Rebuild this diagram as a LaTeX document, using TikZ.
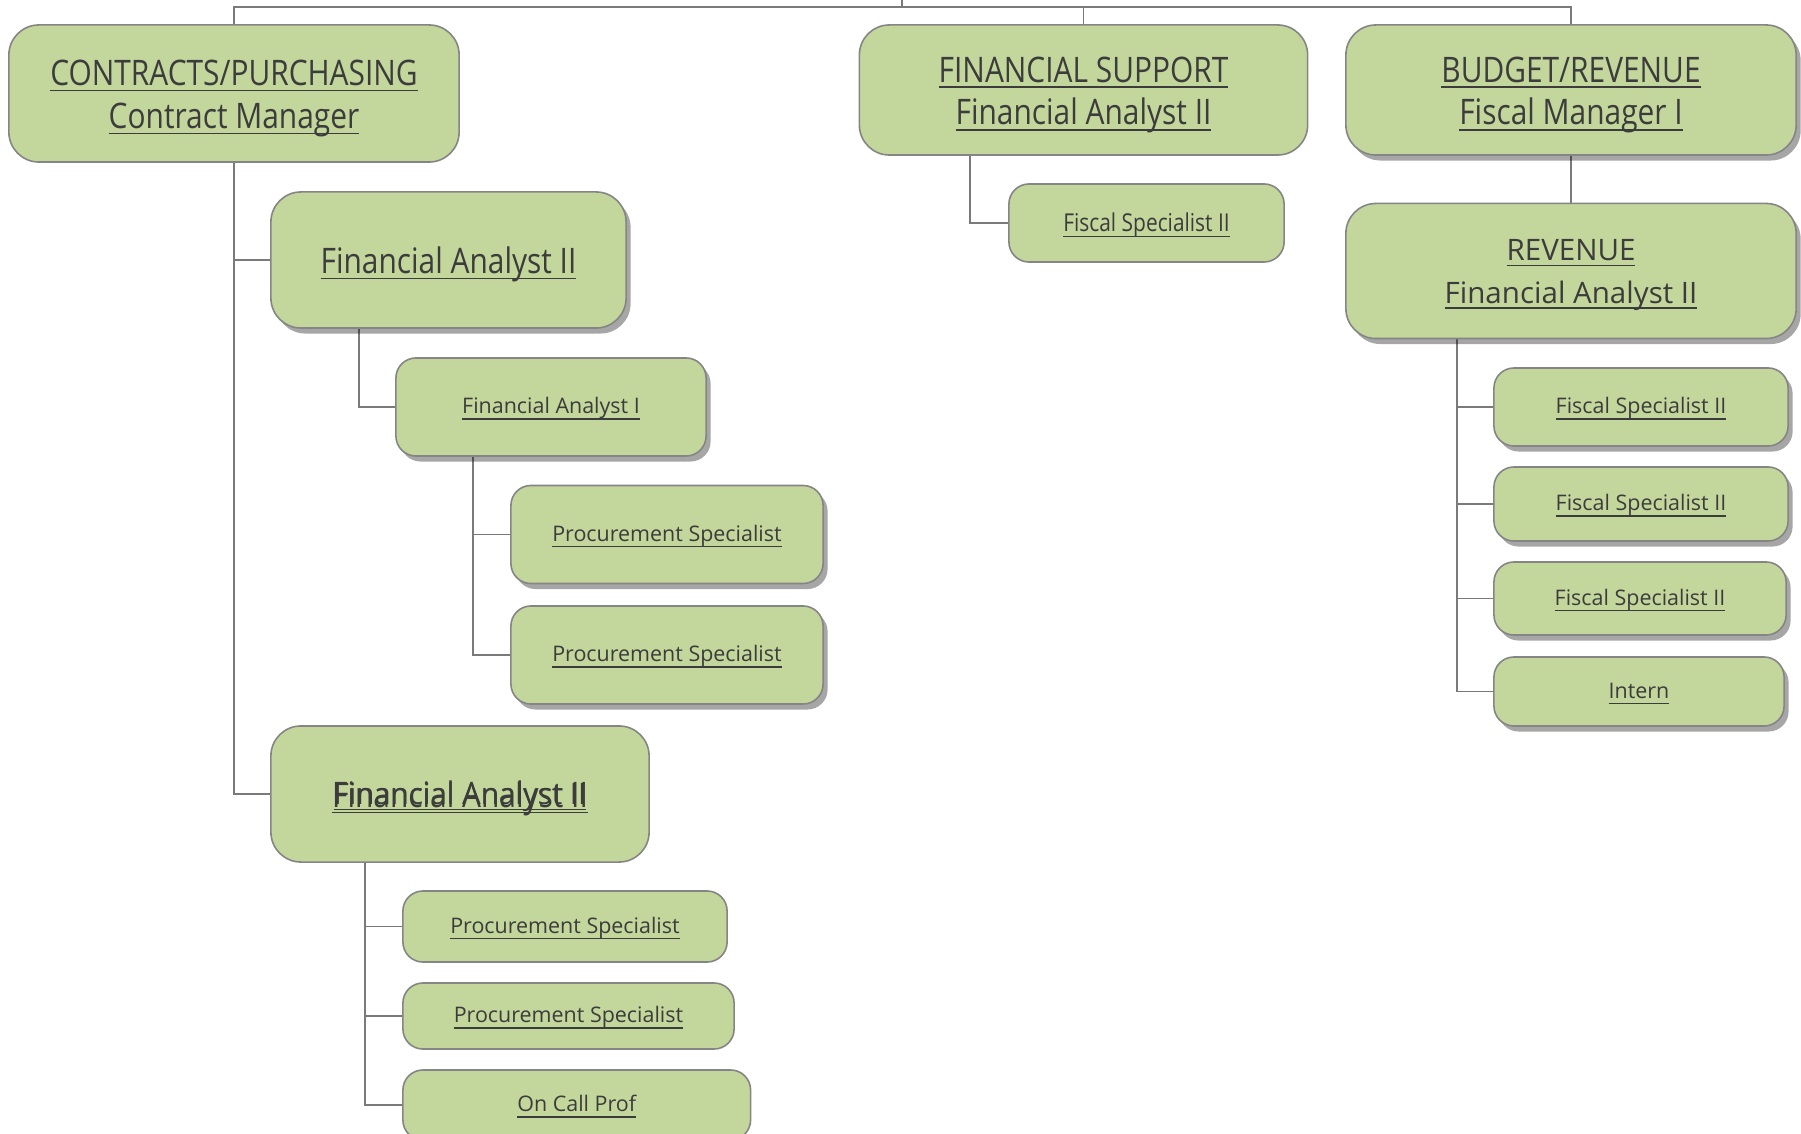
\documentclass[tikz,border=0pt]{standalone}
\usepackage{fontspec}
\setmainfont{Open Sans}
\newfontfamily\fcond[FakeStretch=0.85]{Open Sans}
\usetikzlibrary{shadows,backgrounds}
\pgfdeclarelayer{bottom}
\pgfdeclarelayer{links}
\pgfsetlayers{bottom,links,main}
\definecolor{boxfill}{HTML}{C3D69B}
\definecolor{boxline}{HTML}{858585}
\definecolor{conn}{HTML}{7A7A7A}
\definecolor{txt}{HTML}{3C3C3C}
\newcommand\uln[1]{\rule{0pt}{0.97em}\underline{\smash{#1}}}
\begin{document}
\begin{tikzpicture}[x=0.01cm,y=-0.01cm,
  box/.style={draw=boxline, line width=0.45pt, fill=boxfill, rounded corners=0.3cm,
    text=txt, align=center, inner sep=0pt},
  smallbox/.style={box, rounded corners=0.2cm},
  shd/.style={drop shadow={shadow xshift=0.045cm, shadow yshift=-0.055cm, opacity=0.35, fill=black}},
  big/.style={font=\fcond\fontsize{10}{12.2}\selectfont},
  mid/.style={font=\fontsize{8.4}{12.2}\selectfont},
  small/.style={font=\fontsize{6.1}{7}\selectfont},
  smallc/.style={font=\fcond\fontsize{7}{8}\selectfont},
  link/.style={draw=conn, line width=0.55pt}]
\clip (0,0) rectangle (1801,1134);
\begin{pgfonlayer}{bottom}
\fill[white] (0,0) rectangle (1801,1134);
\end{pgfonlayer}
% top level
\node[box, big, minimum width=4.50cm, minimum height=1.37cm] (A) at (234,93.5)
  {\uln{CONTRACTS/PURCHASING}\\\uln{Contract Manager}};
\node[box, big, minimum width=4.48cm, minimum height=1.30cm] (B) at (1083.5,90)
  {\uln{FINANCIAL SUPPORT}\\\uln{Financial Analyst II}};
\node[box, big, shd, minimum width=4.50cm, minimum height=1.30cm] (C) at (1571,90)
  {\uln{BUDGET/REVENUE}\\\uln{Fiscal Manager I}};
% financial support
\node[smallbox, smallc, minimum width=2.75cm, minimum height=0.78cm] (D) at (1146.5,223)
  {\uln{Fiscal Specialist II}};
% revenue
\node[box, mid, shd, minimum width=4.50cm, minimum height=1.35cm] (E) at (1571,271)
  {\uln{REVENUE}\\\uln{Financial Analyst II}};
\node[smallbox, small, shd, minimum width=2.94cm, minimum height=0.78cm] (K1) at (1641,407) {\uln{Fiscal Specialist II}};
\node[smallbox, small, shd, minimum width=2.94cm, minimum height=0.74cm] (K2) at (1641,504) {\uln{Fiscal Specialist II}};
\node[smallbox, small, shd, minimum width=2.92cm, minimum height=0.73cm] (K3) at (1640,598.5) {\uln{Fiscal Specialist II}};
\node[smallbox, small, shd, minimum width=2.90cm, minimum height=0.69cm] (K4) at (1639,691.5) {\uln{Intern}};
% contracts branch
\node[box, big, shd, minimum width=3.55cm, minimum height=1.36cm] (F) at (448.5,260)
  {\uln{Financial Analyst II}};
\node[smallbox, small, shd, minimum width=3.10cm, minimum height=0.98cm] (H) at (551,407)
  {\uln{Financial Analyst I}};
\node[smallbox, small, shd, minimum width=3.12cm, minimum height=0.98cm] (I1) at (667,534.5)
  {\uln{Procurement Specialist}};
\node[smallbox, small, shd, minimum width=3.12cm, minimum height=0.98cm] (I2) at (667,655)
  {\uln{Procurement Specialist}};
\node[box, big, minimum width=3.78cm, minimum height=1.36cm] (G) at (460,794)
  {\uln{Financial Analyst II}};
\node[text=txt, inner sep=0pt, font=\fontsize{8.4}{10}\selectfont] (G2) at (G.center)
  {\uln{Financial Analyst II}};
\node[smallbox, small, minimum width=3.24cm, minimum height=0.71cm] (J1) at (565,926.5)
  {\uln{Procurement Specialist}};
\node[smallbox, small, minimum width=3.31cm, minimum height=0.66cm] (J2) at (568.5,1016)
  {\uln{Procurement Specialist}};
\node[smallbox, small, minimum width=3.475cm, minimum height=0.70cm] (J3) at (576.75,1105)
  {\uln{On Call Prof}};
% connectors
\coordinate (bus) at (902,7);
\coordinate (up) at (902,0);
\begin{pgfonlayer}{links}
\draw[link] (up) -- (bus);
\draw[link] (A.north) -- (A.north |- bus) -- (C.north |- bus) -- (C.north);
\draw[link] (B.north) -- (B.north |- bus);
\draw[link] (A.south) |- (F.west);
\draw[link] (A.south) |- (G.west);
\draw[link] ([xshift=0.89cm]F.south west) |- (H.west);
\draw[link] ([xshift=0.78cm]H.south west) |- (I1.west);
\draw[link] ([xshift=0.78cm]H.south west) |- (I2.west);
\draw[link] ([xshift=0.95cm]G.south west) |- (J1.west);
\draw[link] ([xshift=0.95cm]G.south west) |- (J2.west);
\draw[link] ([xshift=0.95cm]G.south west) |- (J3.west);
\draw[link] ([xshift=1.11cm]B.south west) |- (D.west);
\draw[link] (C.south) -- (E.north);
\draw[link] ([xshift=1.12cm]E.south west) |- (K1.west);
\draw[link] ([xshift=1.12cm]E.south west) |- (K2.west);
\draw[link] ([xshift=1.12cm]E.south west) |- (K3.west);
\draw[link] ([xshift=1.12cm]E.south west) |- (K4.west);
\end{pgfonlayer}
\end{tikzpicture}
\end{document}
